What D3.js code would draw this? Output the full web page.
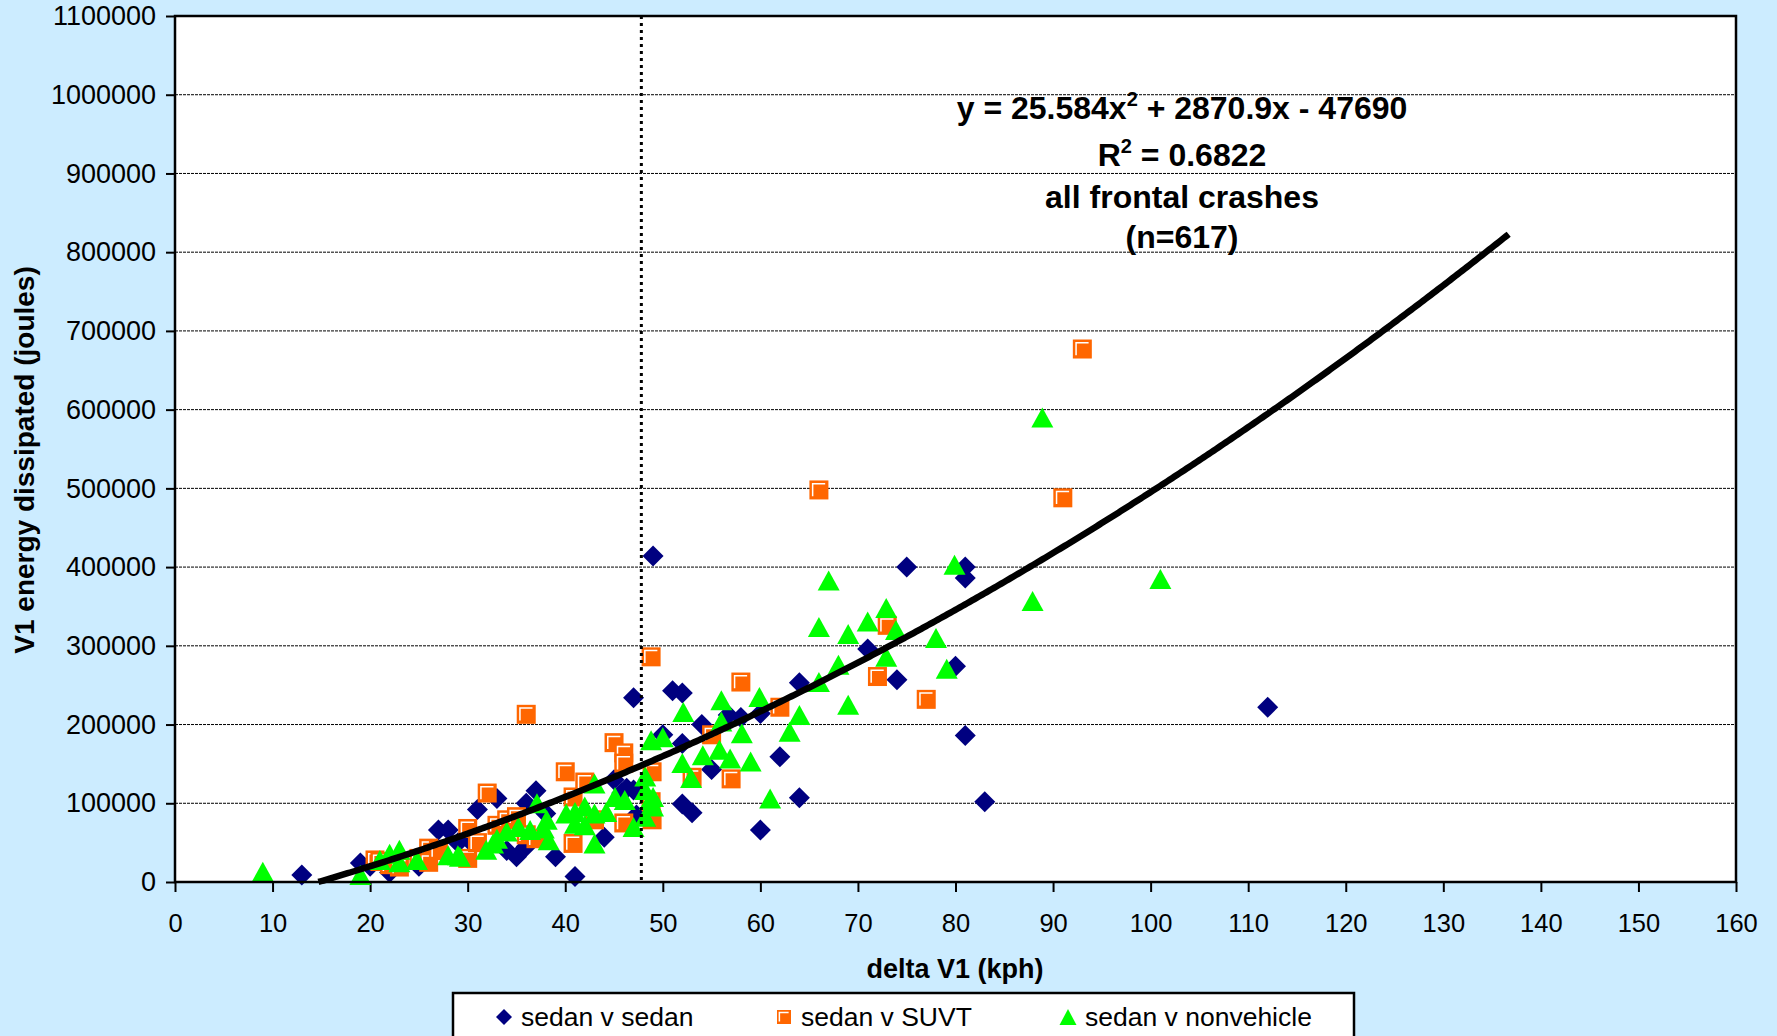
<!DOCTYPE html>
<html>
<head>
<meta charset="utf-8">
<script src="https://cdn.jsdelivr.net/npm/d3@7"></script>
<style>
  html, body { margin: 0; padding: 0; background: #CCECFF; }
  svg { display: block; font-family: Arial, "Liberation Sans", sans-serif; }
</style>
</head>
<body>
<svg id="chart" width="1777" height="1036"></svg>
<script>
// delta V1 (kph) vs. V1 energy dissipated (joules), by crash type
const sedanVSedan = [
  [13, 9000], [19, 24000], [20, 20000], [22, 12000], [25, 20000], [27, 66000], [28, 66000],
  [29, 50000], [30, 55000], [31, 92000], [33, 106000], [34, 40000], [35, 32000], [36, 45000],
  [36, 100000], [37, 116000], [38, 87000], [39, 32000], [41, 7000], [44, 57000], [45, 130000],
  [45.8, 113000], [46.3, 119000], [47, 117000], [47, 234000], [47.3, 85000], [49, 414000],
  [50, 187000], [51, 243000], [52, 240000], [52, 176000], [52, 99000], [53, 88000], [54, 200000],
  [55, 143000], [56.7, 212000], [58, 209000], [60, 214000], [60, 66000], [62, 159000],
  [64, 253000], [64, 107000], [71, 296000], [74, 257000], [75, 400000], [80, 274000],
  [81, 400000], [81, 386000], [81, 186000], [83, 102000], [112, 222000]
];

const sedanVSUVT = [
  [20.5, 28000], [21, 26000], [22, 22000], [23, 19000], [25, 30000], [26, 43000], [26, 25000],
  [27, 40000], [30, 68000], [30, 30000], [31, 50000], [32, 113000], [33, 72000], [34, 79000],
  [35, 83000], [36, 60000], [36, 213000], [37, 55000], [40, 140000], [40.8, 108000],
  [40.8, 49000], [42, 127000], [43, 79000], [45, 177000], [46, 164000], [46, 151000],
  [46, 75000], [48.8, 286000], [48.9, 140000], [48.8, 102000], [48.9, 79000], [53, 133000],
  [55, 187000], [57, 131000], [58, 254000], [62, 222000], [66, 498000], [72, 261000],
  [73, 326000], [77, 232000], [91, 488000], [93, 677000]
];

const sedanVNonvehicle = [
  [9, 13000], [19, 9000], [21, 28000], [22, 36000], [23, 41000], [23, 25000], [24.8, 28000],
  [28, 34000], [29, 34000], [29.2, 32000], [31.9, 41000], [32.6, 49000], [33, 55000],
  [34, 64000], [35.2, 70000], [36.4, 66000], [37.1, 100000], [37.8, 68000], [38.1, 79000],
  [38.3, 53000], [40.1, 87000], [41, 89000], [41, 74000], [42, 96000], [42, 72000],
  [43, 125000], [43, 87000], [43, 49000], [44.2, 89000], [45.1, 108000], [46.1, 104000],
  [47, 70000], [48.2, 83000], [48.2, 134000], [48.2, 117000], [48.7, 104000], [49, 108000],
  [49, 96000], [48.8, 180000], [50, 184000], [52, 151000], [52.1, 216000], [52.9, 132000],
  [54.1, 161000], [55.8, 168000], [56, 231000], [56, 204000], [56.9, 157000], [58.1, 189000],
  [59, 153000], [59.9, 235000], [61, 106000], [63, 191000], [64, 212000], [66, 324000],
  [66, 254000], [67, 383000], [68, 276000], [69, 315000], [69, 225000], [71, 331000],
  [72.9, 348000], [72.9, 286000], [73.9, 320000], [78, 310000], [79.1, 271000],
  [79.9, 403000], [87.9, 357000], [88.9, 590000], [101, 385000]
];

// Polynomial trendline: y = a*x^2 + b*x + c over the fitted range
const trendCoefficients = [25.584, 2870.9, -47690];
const trendRange = [14.7, 136.7];
const referenceSpeed = 47.8;

const xTicks = d3.range(0, 161, 10);
const yTicks = d3.range(0, 1100001, 100000);

const seriesNames = ["sedan v sedan", "sedan v SUVT", "sedan v nonvehicle"];
const annotationLines = ["all frontal crashes", "(n=617)"];

const svg = d3.select("#chart");
const W = 1777, H = 1036;
const plot = { left: 175, right: 1736, top: 16, bottom: 882 };

const x = d3.scaleLinear().domain([0, 160]).range([plot.left, plot.right]);
const y = d3.scaleLinear().domain([0, 1100000]).range([plot.bottom, plot.top]);

svg.append("rect").attr("width", W).attr("height", H).attr("fill", "#CCECFF");
svg.append("rect")
  .attr("x", plot.left).attr("y", plot.top)
  .attr("width", plot.right - plot.left).attr("height", plot.bottom - plot.top)
  .attr("fill", "#fff");

// Horizontal gridlines
svg.append("g").selectAll("line")
  .data(yTicks.filter(v => v > 0 && v < 1100000))
  .join("line")
  .attr("x1", plot.left).attr("x2", plot.right)
  .attr("y1", d => y(d)).attr("y2", d => y(d))
  .attr("stroke", "#000").attr("stroke-width", 1)
  .attr("stroke-dasharray", "3,1");

// Axes
const yAxis = svg.append("g")
  .attr("transform", `translate(${plot.left},0)`)
  .call(d3.axisLeft(y).tickValues(yTicks).tickFormat(d3.format("d")).tickSize(9).tickPadding(10));
const xAxis = svg.append("g")
  .attr("transform", `translate(0,${plot.bottom})`)
  .call(d3.axisBottom(x).tickValues(xTicks).tickFormat(d3.format("d")).tickSize(10).tickPadding(22));
[yAxis, xAxis].forEach(g => {
  g.select(".domain").remove();
  g.selectAll(".tick line").attr("stroke", "#000").attr("stroke-width", 2);
  g.selectAll(".tick text").attr("fill", "#000")
    .style("font-family", "Arial, 'Liberation Sans', sans-serif");
});
yAxis.selectAll(".tick text").style("font-size", "27px");
xAxis.selectAll(".tick text").style("font-size", "25.5px");

// Marker shapes
function diamondPath(cx, cy, r) {
  return `M${cx},${cy - r}L${cx + r},${cy}L${cx},${cy + r}L${cx - r},${cy}Z`;
}
function trianglePath(cx, cy, w, h) {
  return `M${cx},${cy - h / 2}L${cx + w / 2},${cy + h / 2}L${cx - w / 2},${cy + h / 2}Z`;
}
function drawSquare(g, cx, cy, s) {
  g.append("rect").attr("x", cx - s / 2).attr("y", cy - s / 2)
    .attr("width", s).attr("height", s).attr("fill", "#FF6600");
  const i = s * 0.17;
  g.append("path")
    .attr("d", `M${cx - s / 2 + i},${cy + s / 2 - i}V${cy - s / 2 + i}H${cx + s / 2 - i}`)
    .attr("fill", "none").attr("stroke", "#fff").attr("stroke-width", 1.5);
}

const marks = svg.append("g");
marks.append("g").selectAll("path").data(sedanVSedan).join("path")
  .attr("d", d => diamondPath(x(d[0]), y(d[1]), 10.5))
  .attr("fill", "#000080");

const sq = marks.append("g");
sedanVSUVT.forEach(d => drawSquare(sq, x(d[0]), y(d[1]), 19));

marks.append("g").selectAll("path").data(sedanVNonvehicle).join("path")
  .attr("d", d => trianglePath(x(d[0]), y(d[1]), 22, 20))
  .attr("fill", "#00FF00");

// Trendline
const [a, b, c] = trendCoefficients;
const trendPts = d3.range(trendRange[0], trendRange[1] + 0.001, 0.25).map(v => [v, a * v * v + b * v + c]);
svg.append("path")
  .datum(trendPts)
  .attr("d", d3.line().x(d => x(d[0])).y(d => y(d[1])))
  .attr("fill", "none").attr("stroke", "#000").attr("stroke-width", 6.5);

// Reference speed marker
svg.append("line")
  .attr("x1", x(referenceSpeed)).attr("x2", x(referenceSpeed))
  .attr("y1", plot.top).attr("y2", plot.bottom)
  .attr("stroke", "#000").attr("stroke-width", 3).attr("stroke-dasharray", "3,4");

// Plot frame
svg.append("rect")
  .attr("x", plot.left).attr("y", plot.top)
  .attr("width", plot.right - plot.left).attr("height", plot.bottom - plot.top)
  .attr("fill", "none").attr("stroke", "#000").attr("stroke-width", 2.5);

// Equation and notes
const ann = svg.append("g").attr("font-weight", "bold").attr("font-size", 32).attr("text-anchor", "middle").attr("fill", "#000");
const eq = ann.append("text").attr("x", 1182).attr("y", 119);
eq.append("tspan").text(`y = ${a}x`);
eq.append("tspan").attr("font-size", 20).attr("dy", -13).text("2");
eq.append("tspan").attr("dy", 13).text(` + ${b}x - ${Math.abs(c)}`);
const r2 = ann.append("text").attr("x", 1182).attr("y", 166);
r2.append("tspan").text("R");
r2.append("tspan").attr("font-size", 20).attr("dy", -13).text("2");
r2.append("tspan").attr("dy", 13).text(" = 0.6822");
annotationLines.forEach((t, i) => {
  ann.append("text").attr("x", 1182).attr("y", 208 + i * 40).text(t);
});

// Axis titles
svg.append("text").attr("x", 955).attr("y", 978).attr("text-anchor", "middle")
  .attr("font-weight", "bold").attr("font-size", 27).text("delta V1 (kph)");
svg.append("text").attr("transform", "translate(34,460) rotate(-90)").attr("text-anchor", "middle")
  .attr("font-weight", "bold").attr("font-size", 28).text("V1 energy dissipated (joules)");

// Legend
const lg = svg.append("g");
lg.append("rect").attr("x", 453).attr("y", 993).attr("width", 901).attr("height", 60)
  .attr("fill", "#fff").attr("stroke", "#000").attr("stroke-width", 2.5);
const legendX = [504, 784, 1068];
const ly = 1017;
lg.append("path").attr("d", diamondPath(legendX[0], ly, 8)).attr("fill", "#000080");
drawSquare(lg, legendX[1], ly, 14);
lg.append("path").attr("d", trianglePath(legendX[2], ly, 17, 16)).attr("fill", "#00FF00");
seriesNames.forEach((name, i) => {
  lg.append("text").attr("x", legendX[i] + 17).attr("y", ly + 9)
    .attr("font-size", 26.5).attr("fill", "#000").text(name);
});
</script>
</body>
</html>
